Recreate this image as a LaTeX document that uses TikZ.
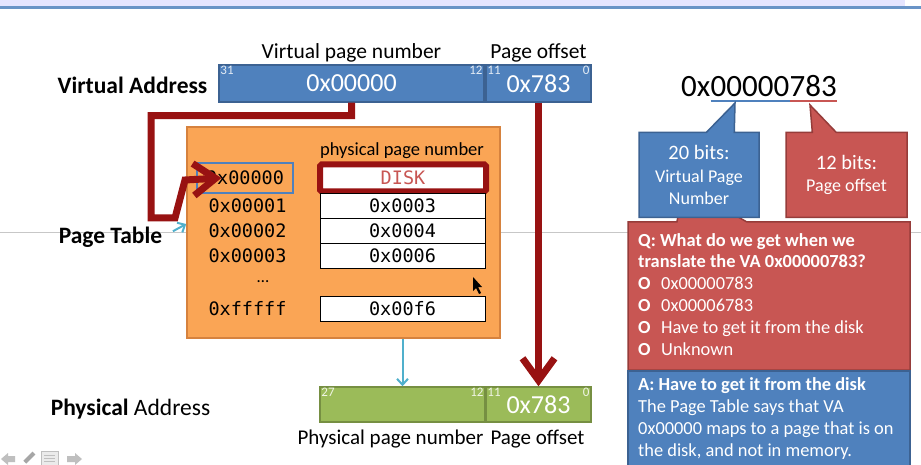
\documentclass[tikz,border=0pt]{standalone}
\usepackage{fontspec}
\setmainfont{Carlito}
\newfontfamily\hexfont{DejaVu Sans Mono}
\usetikzlibrary{
  calc,positioning,arrows.meta,shapes.callouts
}

\definecolor{vablue}{RGB}{79,129,189}
\definecolor{vaborder}{RGB}{60,98,146}
\definecolor{ptorange}{RGB}{250,165,85}
\definecolor{ptborder}{RGB}{214,130,62}
\definecolor{pagreen}{RGB}{155,187,89}
\definecolor{paborder}{RGB}{118,143,66}
\definecolor{qred}{RGB}{200,86,83}
\definecolor{qborder}{RGB}{150,60,58}
\definecolor{darkarrow}{RGB}{152,18,18}
\definecolor{lightarrow}{RGB}{80,176,204}

\begin{document}
\begin{tikzpicture}[x=1pt,y=-1pt,
  bar/.style={draw=vaborder,fill=vablue,line width=1.5pt,inner sep=0pt,
    minimum height=37pt,text=white,font=\fontsize{26}{30}\selectfont},
  pbar/.style={bar,draw=paborder,fill=pagreen,minimum height=35pt},
  bitnum/.style={inner sep=2pt,text=white!85!vablue,font=\fontsize{13}{14}\selectfont},
  caption/.style={inner sep=0pt,font=\fontsize{21}{25}\selectfont},
  heading/.style={inner sep=0pt,font=\fontsize{23.5}{27}\selectfont},
  vpnum/.style={inner sep=0pt,font=\hexfont\fontsize{18.5}{20}\selectfont},
  ppnbox/.style={draw,fill=white,line width=1pt,minimum width=165pt,minimum height=25pt,
    inner sep=0pt,font=\hexfont\fontsize{18.5}{20}\selectfont},
  bigarrow/.style={darkarrow,line width=7pt,line join=miter,
    -{Straight Barb[length=22pt,width=32pt]}},
  thinarrow/.style={lightarrow,line width=2pt,-{Straight Barb[length=6pt,width=11pt]}},
  callbox/.style={rectangle callout,draw=vaborder,fill=vablue,line width=1.5pt,
    text=white,align=center,inner sep=0pt,font=\fontsize{18}{22.5}\selectfont},
  notebox/.style={draw=qborder,fill=qred,line width=1.5pt,text=white,inner sep=0pt},
  notetext/.style={anchor=north west,inner sep=0pt,text=white,align=left,
    font=\fontsize{18.4}{21.8}\selectfont}
]
\clip (0,0) rectangle (921,465);

% slide background
\fill[white] (0,0) rectangle (921,465);
\fill[blue!10!white] (0,0) rectangle (905,6);
\fill[vablue!85!white] (0,6) rectangle (921,9);
\draw[black!22,line width=1pt] (0,233) -- (921,233);

% page table
\node[draw=ptborder,fill=ptorange,line width=1.5pt,minimum width=313pt,minimum height=211pt]
  (pt) at (343.5,232.5) {};
\node[inner sep=0pt,font=\fontsize{18.5}{20}\selectfont] (ppnhead) at (402,151) {physical page number};
\node[vpnum,draw=vablue,line width=1.2pt,minimum width=96pt,minimum height=30pt]
  (vrow0) at (245,178) {0x00000};
\node[ppnbox,text=qred,minimum height=26pt] (prow0) at (403,178) {DISK};
\draw[darkarrow,line width=6pt,rounded corners=1.5pt] (prow0.north west) rectangle (prow0.south east);
\foreach \va/\pa/\yy [count=\i] in {0x00001/0x0003/206,0x00002/0x0004/231,0x00003/0x0006/256}{
  \node[vpnum] (vrow\i) at (247.5,\yy) {\va};
  \node[ppnbox] (prow\i) at (402.5,\yy) {\pa};
}
\node[inner sep=0pt,font=\fontsize{17}{20}\selectfont] (vdots) at (263,282) {\dots};
\node[vpnum] (vrowlast) at (247.5,309) {0xfffff};
\node[ppnbox] (prowlast) at (402.5,308.5) {0x00f6};

% virtual address
\node[heading,font=\bfseries\fontsize{23.5}{27}\selectfont] (valabel) at (132.5,85) {Virtual Address};
\node[bar,minimum width=265pt] (vpn) at (351.5,83.5) {0x00000};
\node[bar,minimum width=105pt] (voff) at (538.5,83.5) {0x783};
\node[caption,above=2pt of vpn,font=\fontsize{21.5}{25}\selectfont] (vpncap) {Virtual page number};
\node[caption,above=2pt of voff,font=\fontsize{21.5}{25}\selectfont] (voffcap) {Page offset};
\node[bitnum,anchor=north west] (b31) at (vpn.north west) {31};
\node[bitnum,anchor=north east] (b12) at (vpn.north east) {12};
\node[bitnum,anchor=north west] (b11) at (voff.north west) {11};
\node[bitnum,anchor=north east] (b0) at (voff.north east) {0};

% physical address
\node[heading] (palabel) at (130.5,409) {\textbf{Physical} Address};
\node[pbar,minimum width=165pt] (ppn) at (402.5,404.5) {};
\node[pbar,minimum width=105pt] (poff) at (538.5,404.5) {0x783};
\node[caption,below=7pt of ppn,xshift=-12pt] (ppncap) {Physical page number};
\node[caption,below=7pt of poff,xshift=-1pt] (poffcap) {Page offset};
\node[bitnum,text=white!85!pagreen,anchor=north west] (p27) at (ppn.north west) {27};
\node[bitnum,text=white!85!pagreen,anchor=north east] (p12) at (ppn.north east) {12};
\node[bitnum,text=white!85!pagreen,anchor=north west] (p11) at (poff.north west) {11};
\node[bitnum,text=white!85!pagreen,anchor=north east] (p0) at (poff.north east) {0};

\node[heading,font=\bfseries\fontsize{23.5}{27}\selectfont] (ptlabel) at (110.5,237) {Page Table};

% arrows
\draw[thinarrow,shorten <=12pt] (ptlabel.east) -- (pt.west |- 0,224);
\draw[thinarrow] (ppn.north |- pt.south) -- (ppn.north);
\coordinate (hook) at (151,218);
\draw[bigarrow] (vpn.south) -- ++(0,13) -| (hook) -- ++(24,0) -- ++(10,-38) -- ([xshift=25pt]vrow0.west);
\draw[bigarrow] (voff.south) -- (poff.north);

% mouse pointer
\fill[black] (473,277) -- (473,291) -- (476,288) -- (479,294) -- (481,293) -- (478,287) -- (482,287) -- cycle;

% the example address
\node[inner sep=0pt,anchor=base west,font=\fontsize{31}{34}\selectfont] (hx) at (681,97) {0x};
\node[inner sep=0pt,anchor=base west,font=\fontsize{31}{34}\selectfont] (hvpn) at (hx.base east) {00000};
\node[inner sep=0pt,anchor=base west,font=\fontsize{31}{34}\selectfont] (hoff) at (hvpn.base east) {783};
\draw[vablue,line width=2pt] ([yshift=-4pt]hvpn.base west) -- ([yshift=-4pt]hvpn.base east);
\draw[qred,line width=2pt] ([yshift=-4pt]hoff.base west) -- ([yshift=-4pt]hoff.base east);

% question and answer
\node[callbox,draw=qborder,fill=qred,minimum width=282pt,minimum height=148pt,
  callout absolute pointer={(684,186)},callout pointer width=70pt] (qbox) at (769,296) {};
\node[notetext] (qtext) at (638,233) {\textbf{Q: What do we get when we}\\
  \textbf{translate the VA 0x00000783?}\\
  \makebox[23pt][l]{\textbf{O}}0x00000783\\
  \makebox[23pt][l]{\textbf{O}}0x00006783\\
  \makebox[23pt][l]{\textbf{O}}Have to get it from the disk\\
  \makebox[23pt][l]{\textbf{O}}Unknown};
\node[notebox,draw=vaborder,fill=vablue,minimum width=282pt,minimum height=110pt,anchor=north]
  (abox) at (769,370) {};
\node[notetext,font=\fontsize{18.4}{22}\selectfont] (atext) at (638,377) {\textbf{A: Have to get it from the disk}\\
  The Page Table says that VA\\
  0x00000 maps to a page that is on\\
  the disk, and not in memory.};

% callouts
\node[callbox,minimum width=120pt,minimum height=85pt,
  callout absolute pointer={(735,103)},callout pointer width=28pt] (vpncall) at (699,175)
  {{\fontsize{20.5}{22.5}\selectfont 20 bits:}\\Virtual Page\\Number};
\node[callbox,draw=qborder,fill=qred,minimum width=121pt,minimum height=85pt,
  callout absolute pointer={(810,105)},callout pointer width=24pt] (offcall) at (846.5,175)
  {{\fontsize{20.5}{22.5}\selectfont 12 bits:}\\Page offset};

% slide navigation
\fill[black!25] (1,459) -- (8,453) -- (8,456) -- (15,456) -- (15,462) -- (8,462) -- (8,465) -- cycle;
\fill[black!35,rotate around={45:(29,458)}] (23,456) rectangle (36,460);
\draw[black!25,fill=black!8] (41,451) rectangle (58,465);
\foreach \ly in {455,458,461} \draw[black!25] (44,\ly) -- (55,\ly);
\fill[black!25] (82,459) -- (75,453) -- (75,456) -- (67,456) -- (67,462) -- (75,462) -- (75,465) -- cycle;
\end{tikzpicture}
\end{document}
